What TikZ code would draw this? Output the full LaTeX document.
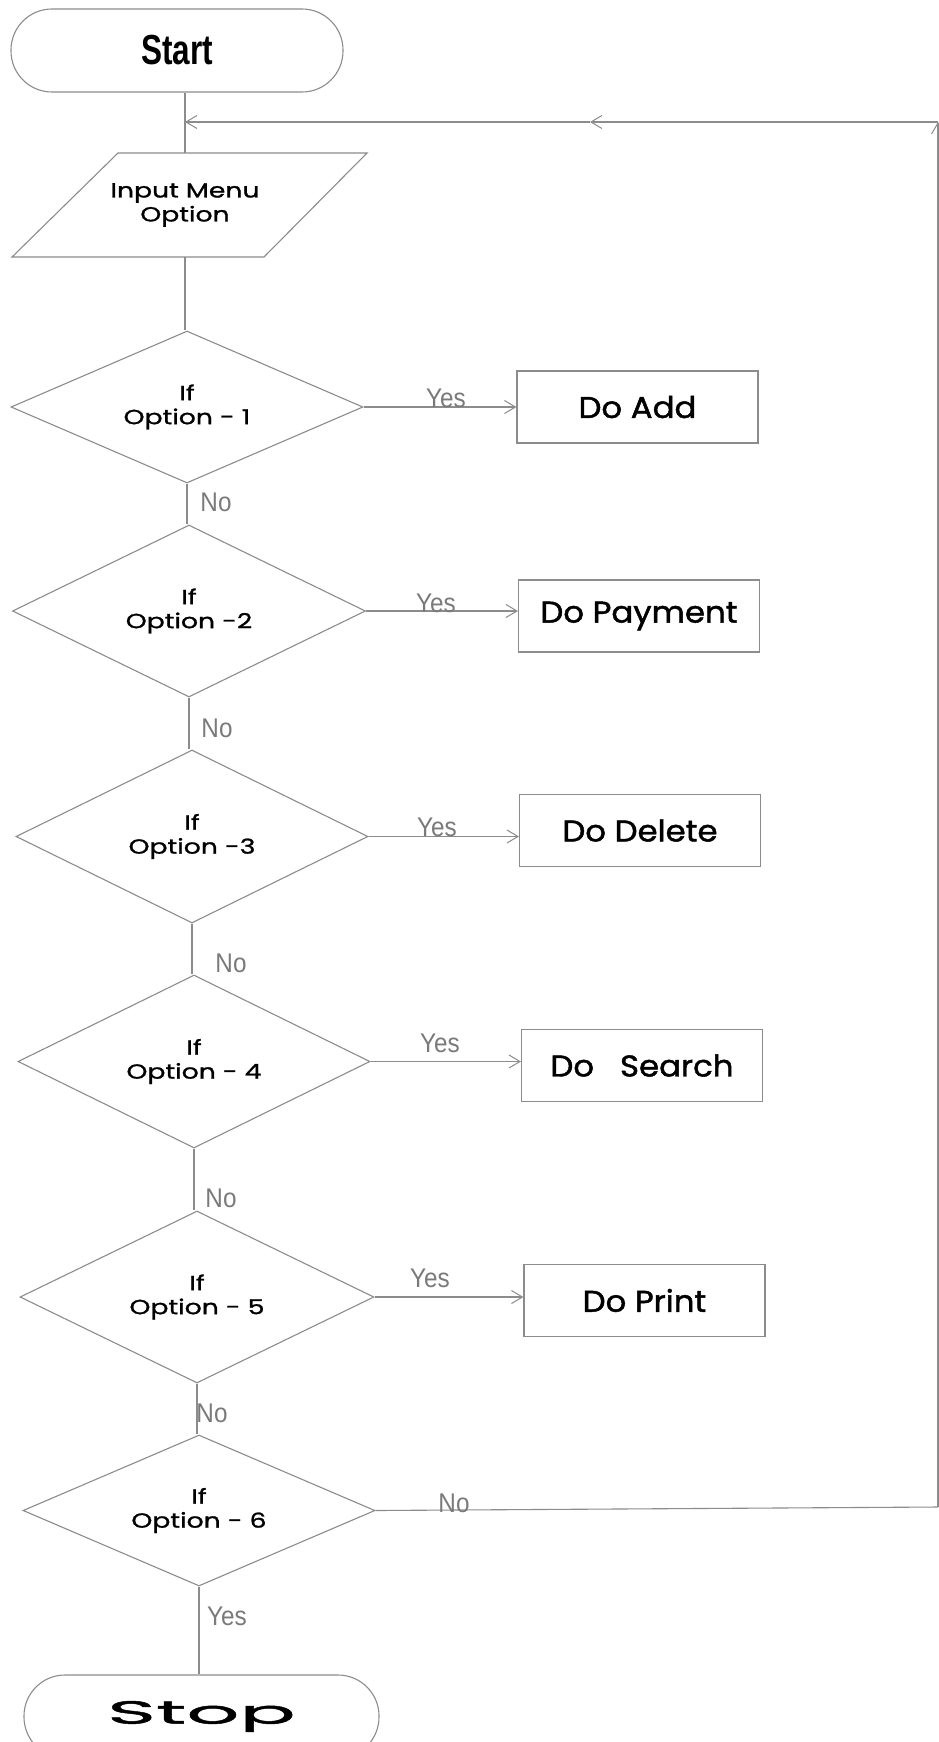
\documentclass[tikz,border=0pt]{standalone}
\usepackage{fontspec}
\setmainfont{Liberation Sans}
\newfontfamily\geo[FakeStretch=1.3,FakeBold=1.2]{Poppins}
\newfontfamily\geobox[FakeStretch=1.08,FakeBold=1.5]{Poppins}
\newfontfamily\stopf[FakeStretch=2.6,FakeBold=1.5]{Poppins}
\newfontfamily\startf[FakeStretch=0.75]{Liberation Sans}
\newfontfamily\lblf[FakeStretch=0.9]{Liberation Sans}
\usetikzlibrary{shapes.geometric,arrows.meta}
\definecolor{linec}{HTML}{8C8C8C}
\definecolor{lblc}{HTML}{7A7A7A}
\begin{document}
\begin{tikzpicture}[x=1pt,y=-1pt,
  conn/.style={draw=linec,line width=1.1pt},
  arr/.style={conn,-{Straight Barb[length=11pt,width=13pt,line width=1pt]}},
  term/.style={draw=linec,line width=1.1pt,rounded corners=41pt,minimum width=332pt,minimum height=83pt,inner sep=0pt},
  dec/.style={diamond,draw=linec,line width=1.1pt,inner sep=0pt,aspect=2.3,align=center,font=\geo\fontsize{20.5}{24}\selectfont},
  proc/.style={draw=linec,line width=1.1pt,minimum width=241pt,minimum height=72pt,inner sep=0pt,font=\geobox\fontsize{30}{32}\selectfont},
  lbl/.style={inner sep=0pt,text=lblc,font=\lblf\fontsize{27}{30}\selectfont}]
\useasboundingbox (0,0) rectangle (939,1742);
\fill[white] (0,0) rectangle (939,1742);
\clip (0,0) rectangle (939,1742);
% terminals
\node[term,font=\startf\bfseries\fontsize{42}{44}\selectfont] (start) at (177,50.5) {Start};
\node[term,minimum width=355pt,font=\stopf\fontsize{32}{34}\selectfont] (stop) at (201.5,1716.5) {Stop};
% input parallelogram
\draw[conn] (118,153) -- (367,153) -- (264,257) -- (12,257) -- cycle;
\node[inner sep=0pt,minimum height=104pt,align=center,font=\geo\fontsize{20.5}{24}\selectfont] (input) at (185,205) {Input Menu\\Option};
% decisions
\node[dec,minimum width=352pt,minimum height=152pt] (d1) at (187,407) {If\\Option - 1};
\node[dec,minimum width=353pt,minimum height=172pt] (d2) at (189,611) {If\\Option -2};
\node[dec,minimum width=352pt,minimum height=173pt] (d3) at (192,836.5) {If\\Option -3};
\node[dec,minimum width=352pt,minimum height=173pt] (d4) at (194,1061.5) {If\\Option - 4};
\node[dec,minimum width=354pt,minimum height=172pt] (d5) at (197,1297) {If\\Option - 5};
\node[dec,minimum width=352pt,minimum height=151pt] (d6) at (199,1510.5) {If\\Option - 6};
% process boxes
\node[proc] (b1) at (637.5,407) {Do Add};
\node[proc] (b2) at (639,616) {Do Payment};
\node[proc] (b3) at (640,830.5) {Do Delete};
\node[proc] (b4) at (642,1065.5) {Do\ \ \ Search};
\node[proc] (b5) at (644.5,1300.5) {Do Print};
% coordinates for the loop
\coordinate (c6) at (938,1507);
\coordinate (loopR) at (938,122);
\coordinate (loopM) at (590,122);
\coordinate (loopJ) at (185,122);
% main stem
\draw[conn] (start.south -| input.north) -- (input.north);
\draw[conn] (input.south) -- (input.south |- d1.north);
\draw[conn] (d1.south) -- (d1.south |- d2.north);
\draw[conn] (d2.south) -- (d2.south |- d3.north);
\draw[conn] (d3.south) -- (d3.south |- d4.north);
\draw[conn] (d4.south) -- (d4.south |- d5.north);
\draw[conn] (d5.south) -- (d5.south |- d6.north);
\draw[conn] (d6.south) -- (d6.south |- stop.north);
% yes branches
\draw[arr] (d1.east) -- (d1.east -| b1.west);
\draw[arr] (d2.east) -- (d2.east -| b2.west);
\draw[arr] (d3.east) -- (d3.east -| b3.west);
\draw[arr] (d4.east) -- (d4.east -| b4.west);
\draw[arr] (d5.east) -- (d5.east -| b5.west);
% loop back
\draw[conn] (d6.east) -- (c6);
\draw[arr] (c6) -- (loopR);
\draw[arr] (loopR) -- (loopM);
\draw[arr] (loopM) -- (loopJ);
% labels
\node[lbl] (y1) at (446,398) {Yes};
\node[lbl] (y2) at (436,603) {Yes};
\node[lbl] (y3) at (437,827) {Yes};
\node[lbl] (y4) at (440,1043) {Yes};
\node[lbl] (y5) at (430,1278) {Yes};
\node[lbl] (y6) at (227,1616) {Yes};
\node[lbl] (n1) at (216,502) {No};
\node[lbl] (n2) at (217,728) {No};
\node[lbl] (n3) at (231,963) {No};
\node[lbl] (n4) at (221,1198) {No};
\node[lbl] (n5) at (212,1413) {No};
\node[lbl] (n6) at (454,1503) {No};
\end{tikzpicture}
\end{document}
